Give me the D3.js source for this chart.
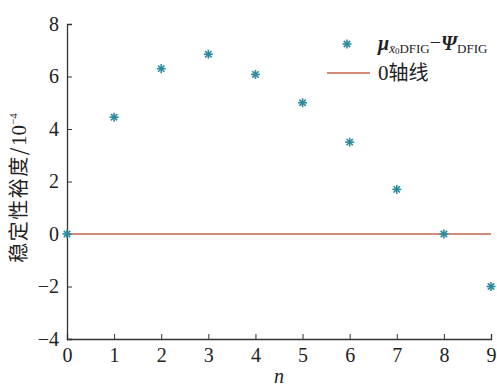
<!DOCTYPE html>
<html><head><meta charset="utf-8">
<script src="https://cdn.jsdelivr.net/npm/d3@7"></script>
<style>body{margin:0;background:#fff}svg{display:block}
.serif{font-family:"Liberation Serif","Times New Roman","DejaVu Serif",serif}
.cjk{font-family:"Noto Sans CJK SC",sans-serif}
</style>
</head><body>
<script>
const nValues = [0,1,2,3,4,5,6,7,8,9];
const margin = [0,4.45,6.3,6.85,6.08,5.0,3.5,1.7,0.0,-2.0];
const xTicks = [0,1,2,3,4,5,6,7,8,9];
const yTicks = [-4,-2,0,2,4,6,8];
const zeroLine = [0,9];

const W=497,H=386;
const svg=d3.select("body").append("svg").attr("width",W).attr("height",H);
const x=d3.scaleLinear().domain([0,9]).range([67,491]);
const y=d3.scaleLinear().domain([-4,8]).range([339,24]);
const axisColor="#333";

const xa=svg.append("g").attr("transform",`translate(0,${y(-4)})`)
  .call(d3.axisBottom(x).tickValues(xTicks).tickSize(-5).tickPadding(9).tickFormat(d3.format("d")));
const ya=svg.append("g").attr("transform",`translate(${x(0)},0)`)
  .call(d3.axisLeft(y).tickValues(yTicks).tickSize(-5).tickPadding(8).tickFormat(d=>d<0?"\u2212"+Math.abs(d):d));
[xa,ya].forEach(a=>{
  a.attr("font-family",null);
  a.selectAll("path").attr("stroke",axisColor).attr("stroke-width",1.3);
  a.selectAll("line").attr("stroke",axisColor).attr("stroke-width",1);
  a.selectAll("text").attr("class","serif").attr("font-size",20).attr("fill","#222");
});

// zero line
svg.append("line").attr("x1",x(zeroLine[0])).attr("x2",x(zeroLine[1]))
  .attr("y1",y(0)).attr("y2",y(0)).attr("stroke","#c8654d").attr("stroke-width",1.3);

const teal="#2a8a9e";
function drawStar(g,cx,cy){
  const s=g.append("g").attr("transform",`translate(${cx},${cy})`);
  for(let k=0;k<4;k++){
    const a=k*Math.PI/4, r=4.5;
    s.append("line").attr("x1",-r*Math.cos(a)).attr("y1",-r*Math.sin(a))
      .attr("x2",r*Math.cos(a)).attr("y2",r*Math.sin(a))
      .attr("stroke",teal).attr("stroke-width",1.6);
  }
}
const pts=svg.append("g");
nValues.forEach((n,i)=>drawStar(pts,x(n),y(margin[i])));

// axis titles
svg.append("text").attr("class","serif").attr("x",x(4.5)).attr("y",383).attr("text-anchor","middle")
  .attr("font-style","italic").attr("font-size",20).attr("fill","#222").text("n");
const yt=svg.append("text").attr("transform",`translate(26,188) rotate(-90)`)
  .attr("text-anchor","middle").attr("font-size",20).attr("fill","#222");
yt.append("tspan").attr("class","cjk").attr("letter-spacing",1.5).text("稳定性裕度/");
yt.append("tspan").attr("class","serif").attr("font-size",21).text("10");
yt.append("tspan").attr("class","serif").attr("font-size",11).attr("dy",-9).text("\u22124");

// legend
drawStar(svg,347,44);
const lt=svg.append("text").attr("class","serif").attr("x",378).attr("y",50).attr("font-size",20).attr("fill","#222");
lt.append("tspan").attr("font-weight","bold").attr("font-style","italic").text("μ");
lt.append("tspan").attr("font-size",13).attr("font-style","italic").attr("dy",3).text("x̄");
lt.append("tspan").attr("font-size",9).attr("dy",1).text("0");
lt.append("tspan").attr("font-size",13).attr("dy",-1).text("DFIG");
lt.append("tspan").attr("dy",-4).text("−");
lt.append("tspan").attr("font-weight","bold").attr("font-style","italic").attr("dy",1).text("Ψ");
lt.append("tspan").attr("font-size",13).attr("dy",3).text("DFIG");
svg.append("line").attr("x1",327).attr("x2",370).attr("y1",73).attr("y2",73).attr("stroke","#c8654d").attr("stroke-width",1.3);
const l2=svg.append("text").attr("x",378).attr("y",80).attr("font-size",20).attr("fill","#222");
l2.append("tspan").attr("class","serif").attr("font-size",21).text("0");
l2.append("tspan").attr("class","cjk").text("轴线");
</script>
</body></html>
